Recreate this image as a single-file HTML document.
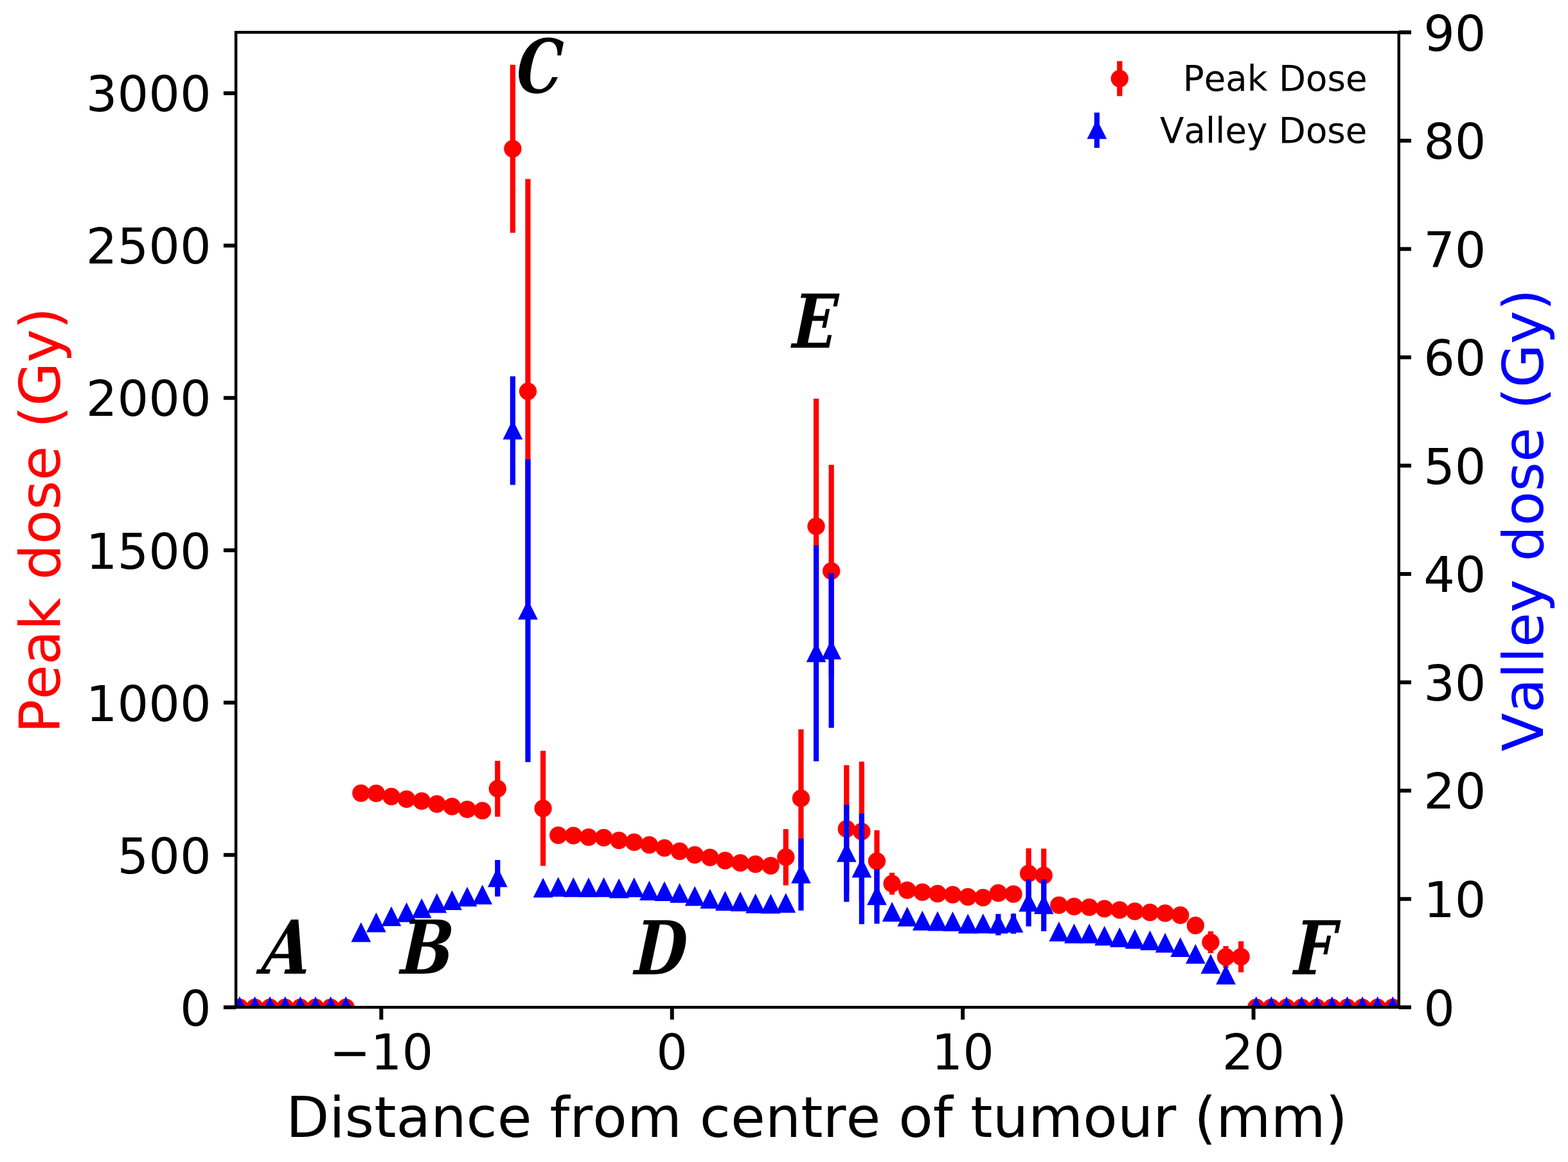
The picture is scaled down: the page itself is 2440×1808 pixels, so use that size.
<!DOCTYPE html>
<html lang="en"><head><meta charset="utf-8"><title>Peak and valley dose profile</title>
<style>html,body{margin:0;padding:0;background:#fff}body{width:2440px;height:1808px;overflow:hidden}svg{display:block}text{font-family:"DejaVu Sans","Liberation Sans",sans-serif;font-kerning:none;font-variant-ligatures:none}.tk{font-size:76.58px;fill:#000}.lb{font-size:87.52px}.lg{font-size:54.7px;fill:#000}.an{font-family:"DejaVu Serif Condensed","DejaVu Serif","Liberation Serif",serif;font-stretch:condensed;font-weight:bold;font-style:italic;fill:#000;font-kerning:none}</style></head><body>
<svg width="2440" height="1808" viewBox="0 0 2440 1808">
<rect width="2440" height="1808" fill="#fff"/>
<defs><clipPath id="ax"><rect x="367.1" y="50.3" width="1809.7" height="1517"/></clipPath></defs>
<g clip-path="url(#ax)">
<g stroke="#f00" stroke-width="8.21" fill="none">
<line x1="774.27" y1="1183.7" x2="774.27" y2="1270.7"/>
<line x1="797.88" y1="100.8" x2="797.88" y2="362.2"/>
<line x1="821.49" y1="278.5" x2="821.49" y2="939.1"/>
<line x1="845.1" y1="1168.3" x2="845.1" y2="1347.3"/>
<line x1="1222.86" y1="1289.9" x2="1222.86" y2="1377.5"/>
<line x1="1246.47" y1="1134.8" x2="1246.47" y2="1349.6"/>
<line x1="1270.08" y1="620.2" x2="1270.08" y2="1017.6"/>
<line x1="1293.69" y1="723.3" x2="1293.69" y2="1053.5"/>
<line x1="1317.3" y1="1190.5" x2="1317.3" y2="1388.9"/>
<line x1="1340.91" y1="1185.1" x2="1340.91" y2="1402.5"/>
<line x1="1364.52" y1="1291.8" x2="1364.52" y2="1387.8"/>
<line x1="1388.13" y1="1357.9" x2="1388.13" y2="1391.9"/>
<line x1="1600.62" y1="1319.9" x2="1600.62" y2="1398.3"/>
<line x1="1624.23" y1="1320.4" x2="1624.23" y2="1403.8"/>
<line x1="1883.94" y1="1449.1" x2="1883.94" y2="1483.1"/>
<line x1="1907.55" y1="1472" x2="1907.55" y2="1506"/>
<line x1="1931.16" y1="1464.5" x2="1931.16" y2="1512.9"/>
</g>
<g fill="#f00">
<circle cx="372.9" cy="1567.3" r="13.67"/>
<circle cx="396.51" cy="1567.3" r="13.67"/>
<circle cx="420.12" cy="1567.3" r="13.67"/>
<circle cx="443.73" cy="1567.3" r="13.67"/>
<circle cx="467.34" cy="1567.3" r="13.67"/>
<circle cx="490.95" cy="1567.3" r="13.67"/>
<circle cx="514.56" cy="1567.3" r="13.67"/>
<circle cx="538.17" cy="1567.3" r="13.67"/>
<circle cx="561.78" cy="1234.1" r="13.67"/>
<circle cx="585.39" cy="1234.4" r="13.67"/>
<circle cx="609" cy="1239.4" r="13.67"/>
<circle cx="632.61" cy="1243.4" r="13.67"/>
<circle cx="656.22" cy="1246.4" r="13.67"/>
<circle cx="679.83" cy="1251" r="13.67"/>
<circle cx="703.44" cy="1254.9" r="13.67"/>
<circle cx="727.05" cy="1259.4" r="13.67"/>
<circle cx="750.66" cy="1261.4" r="13.67"/>
<circle cx="774.27" cy="1227.2" r="13.67"/>
<circle cx="797.88" cy="231.5" r="13.67"/>
<circle cx="821.49" cy="608.8" r="13.67"/>
<circle cx="845.1" cy="1257.8" r="13.67"/>
<circle cx="868.71" cy="1299.6" r="13.67"/>
<circle cx="892.32" cy="1300.1" r="13.67"/>
<circle cx="915.93" cy="1302.6" r="13.67"/>
<circle cx="939.54" cy="1303.3" r="13.67"/>
<circle cx="963.15" cy="1307.6" r="13.67"/>
<circle cx="986.76" cy="1310.4" r="13.67"/>
<circle cx="1010.37" cy="1314.7" r="13.67"/>
<circle cx="1033.98" cy="1319.4" r="13.67"/>
<circle cx="1057.59" cy="1324.5" r="13.67"/>
<circle cx="1081.2" cy="1330.1" r="13.67"/>
<circle cx="1104.81" cy="1334.2" r="13.67"/>
<circle cx="1128.42" cy="1339" r="13.67"/>
<circle cx="1152.03" cy="1342.7" r="13.67"/>
<circle cx="1175.64" cy="1344.6" r="13.67"/>
<circle cx="1199.25" cy="1347" r="13.67"/>
<circle cx="1222.86" cy="1333.7" r="13.67"/>
<circle cx="1246.47" cy="1242.2" r="13.67"/>
<circle cx="1270.08" cy="818.9" r="13.67"/>
<circle cx="1293.69" cy="888.4" r="13.67"/>
<circle cx="1317.3" cy="1289.7" r="13.67"/>
<circle cx="1340.91" cy="1293.8" r="13.67"/>
<circle cx="1364.52" cy="1339.8" r="13.67"/>
<circle cx="1388.13" cy="1374.9" r="13.67"/>
<circle cx="1411.74" cy="1385.1" r="13.67"/>
<circle cx="1435.35" cy="1388.1" r="13.67"/>
<circle cx="1458.96" cy="1390.5" r="13.67"/>
<circle cx="1482.57" cy="1392.2" r="13.67"/>
<circle cx="1506.18" cy="1395.5" r="13.67"/>
<circle cx="1529.79" cy="1396.7" r="13.67"/>
<circle cx="1553.4" cy="1389.5" r="13.67"/>
<circle cx="1577.01" cy="1391.1" r="13.67"/>
<circle cx="1600.62" cy="1359.1" r="13.67"/>
<circle cx="1624.23" cy="1362.1" r="13.67"/>
<circle cx="1647.84" cy="1408.3" r="13.67"/>
<circle cx="1671.45" cy="1410.5" r="13.67"/>
<circle cx="1695.06" cy="1411.7" r="13.67"/>
<circle cx="1718.67" cy="1413.9" r="13.67"/>
<circle cx="1742.28" cy="1415.8" r="13.67"/>
<circle cx="1765.89" cy="1418" r="13.67"/>
<circle cx="1789.5" cy="1419.7" r="13.67"/>
<circle cx="1813.11" cy="1420.9" r="13.67"/>
<circle cx="1836.72" cy="1424" r="13.67"/>
<circle cx="1860.33" cy="1440" r="13.67"/>
<circle cx="1883.94" cy="1466.1" r="13.67"/>
<circle cx="1907.55" cy="1489" r="13.67"/>
<circle cx="1931.16" cy="1488.7" r="13.67"/>
<circle cx="1954.77" cy="1567.3" r="13.67"/>
<circle cx="1978.38" cy="1567.3" r="13.67"/>
<circle cx="2001.99" cy="1567.3" r="13.67"/>
<circle cx="2025.6" cy="1567.3" r="13.67"/>
<circle cx="2049.21" cy="1567.3" r="13.67"/>
<circle cx="2072.82" cy="1567.3" r="13.67"/>
<circle cx="2096.43" cy="1567.3" r="13.67"/>
<circle cx="2120.04" cy="1567.3" r="13.67"/>
<circle cx="2143.65" cy="1567.3" r="13.67"/>
<circle cx="2167.26" cy="1567.3" r="13.67"/>
</g>
<g stroke="#00f" stroke-width="8.21" fill="none">
<line x1="774.27" y1="1338.1" x2="774.27" y2="1394.9"/>
<line x1="797.88" y1="585.4" x2="797.88" y2="754.6"/>
<line x1="821.49" y1="714.8" x2="821.49" y2="1185.8"/>
<line x1="1246.47" y1="1304.8" x2="1246.47" y2="1416.8"/>
<line x1="1270.08" y1="848.5" x2="1270.08" y2="1184.5"/>
<line x1="1293.69" y1="892" x2="1293.69" y2="1132.4"/>
<line x1="1317.3" y1="1252" x2="1317.3" y2="1403.2"/>
<line x1="1340.91" y1="1265.9" x2="1340.91" y2="1437.9"/>
<line x1="1364.52" y1="1351.9" x2="1364.52" y2="1437.3"/>
<line x1="1553.4" y1="1422.1" x2="1553.4" y2="1455.3"/>
<line x1="1577.01" y1="1421.6" x2="1577.01" y2="1452.8"/>
<line x1="1600.62" y1="1368.4" x2="1600.62" y2="1441.4"/>
<line x1="1624.23" y1="1368" x2="1624.23" y2="1449"/>
</g>
<g fill="#00f" stroke="#00f" stroke-width="5.47" stroke-linejoin="miter" stroke-miterlimit="10">
<polygon points="372.9,1556.36 361.96,1578.24 383.84,1578.24"/>
<polygon points="396.51,1556.36 385.57,1578.24 407.45,1578.24"/>
<polygon points="420.12,1556.36 409.18,1578.24 431.06,1578.24"/>
<polygon points="443.73,1556.36 432.79,1578.24 454.67,1578.24"/>
<polygon points="467.34,1556.36 456.4,1578.24 478.28,1578.24"/>
<polygon points="490.95,1556.36 480.01,1578.24 501.89,1578.24"/>
<polygon points="514.56,1556.36 503.62,1578.24 525.5,1578.24"/>
<polygon points="538.17,1556.36 527.23,1578.24 549.11,1578.24"/>
<polygon points="561.78,1441.11 550.84,1462.99 572.72,1462.99"/>
<polygon points="585.39,1425.86 574.45,1447.74 596.33,1447.74"/>
<polygon points="609,1416.26 598.06,1438.14 619.94,1438.14"/>
<polygon points="632.61,1410.16 621.67,1432.04 643.55,1432.04"/>
<polygon points="656.22,1403.81 645.28,1425.69 667.16,1425.69"/>
<polygon points="679.83,1395.86 668.89,1417.74 690.77,1417.74"/>
<polygon points="703.44,1391.36 692.5,1413.24 714.38,1413.24"/>
<polygon points="727.05,1385.81 716.11,1407.69 737.99,1407.69"/>
<polygon points="750.66,1382.66 739.72,1404.54 761.6,1404.54"/>
<polygon points="774.27,1355.56 763.33,1377.44 785.21,1377.44"/>
<polygon points="797.88,659.06 786.94,680.94 808.82,680.94"/>
<polygon points="821.49,939.36 810.55,961.24 832.43,961.24"/>
<polygon points="845.1,1371.96 834.16,1393.84 856.04,1393.84"/>
<polygon points="868.71,1370.56 857.77,1392.44 879.65,1392.44"/>
<polygon points="892.32,1371.16 881.38,1393.04 903.26,1393.04"/>
<polygon points="915.93,1371.46 904.99,1393.34 926.87,1393.34"/>
<polygon points="939.54,1371.16 928.6,1393.04 950.48,1393.04"/>
<polygon points="963.15,1372.86 952.21,1394.74 974.09,1394.74"/>
<polygon points="986.76,1371.36 975.82,1393.24 997.7,1393.24"/>
<polygon points="1010.37,1376.36 999.43,1398.24 1021.31,1398.24"/>
<polygon points="1033.98,1377.26 1023.04,1399.14 1044.92,1399.14"/>
<polygon points="1057.59,1380.16 1046.65,1402.04 1068.53,1402.04"/>
<polygon points="1081.2,1384.76 1070.26,1406.64 1092.14,1406.64"/>
<polygon points="1104.81,1389.16 1093.87,1411.04 1115.75,1411.04"/>
<polygon points="1128.42,1392.26 1117.48,1414.14 1139.36,1414.14"/>
<polygon points="1152.03,1393.26 1141.09,1415.14 1162.97,1415.14"/>
<polygon points="1175.64,1396.36 1164.7,1418.24 1186.58,1418.24"/>
<polygon points="1199.25,1396.86 1188.31,1418.74 1210.19,1418.74"/>
<polygon points="1222.86,1395.56 1211.92,1417.44 1233.8,1417.44"/>
<polygon points="1246.47,1349.86 1235.53,1371.74 1257.41,1371.74"/>
<polygon points="1270.08,1005.56 1259.14,1027.44 1281.02,1027.44"/>
<polygon points="1293.69,1001.26 1282.75,1023.14 1304.63,1023.14"/>
<polygon points="1317.3,1316.66 1306.36,1338.54 1328.24,1338.54"/>
<polygon points="1340.91,1340.96 1329.97,1362.84 1351.85,1362.84"/>
<polygon points="1364.52,1383.66 1353.58,1405.54 1375.46,1405.54"/>
<polygon points="1388.13,1409.46 1377.19,1431.34 1399.07,1431.34"/>
<polygon points="1411.74,1416.76 1400.8,1438.64 1422.68,1438.64"/>
<polygon points="1435.35,1423.06 1424.41,1444.94 1446.29,1444.94"/>
<polygon points="1458.96,1423.96 1448.02,1445.84 1469.9,1445.84"/>
<polygon points="1482.57,1424.26 1471.63,1446.14 1493.51,1446.14"/>
<polygon points="1506.18,1427.96 1495.24,1449.84 1517.12,1449.84"/>
<polygon points="1529.79,1427.66 1518.85,1449.54 1540.73,1449.54"/>
<polygon points="1553.4,1427.76 1542.46,1449.64 1564.34,1449.64"/>
<polygon points="1577.01,1426.26 1566.07,1448.14 1587.95,1448.14"/>
<polygon points="1600.62,1393.96 1589.68,1415.84 1611.56,1415.84"/>
<polygon points="1624.23,1397.56 1613.29,1419.44 1635.17,1419.44"/>
<polygon points="1647.84,1440.06 1636.9,1461.94 1658.78,1461.94"/>
<polygon points="1671.45,1443.16 1660.51,1465.04 1682.39,1465.04"/>
<polygon points="1695.06,1443.16 1684.12,1465.04 1706,1465.04"/>
<polygon points="1718.67,1446.66 1707.73,1468.54 1729.61,1468.54"/>
<polygon points="1742.28,1449.06 1731.34,1470.94 1753.22,1470.94"/>
<polygon points="1765.89,1451.66 1754.95,1473.54 1776.83,1473.54"/>
<polygon points="1789.5,1453.96 1778.56,1475.84 1800.44,1475.84"/>
<polygon points="1813.11,1457.66 1802.17,1479.54 1824.05,1479.54"/>
<polygon points="1836.72,1464.46 1825.78,1486.34 1847.66,1486.34"/>
<polygon points="1860.33,1474.86 1849.39,1496.74 1871.27,1496.74"/>
<polygon points="1883.94,1490.36 1873,1512.24 1894.88,1512.24"/>
<polygon points="1907.55,1507.06 1896.61,1528.94 1918.49,1528.94"/>
<polygon points="1954.77,1556.36 1943.83,1578.24 1965.71,1578.24"/>
<polygon points="1978.38,1556.36 1967.44,1578.24 1989.32,1578.24"/>
<polygon points="2001.99,1556.36 1991.05,1578.24 2012.93,1578.24"/>
<polygon points="2025.6,1556.36 2014.66,1578.24 2036.54,1578.24"/>
<polygon points="2049.21,1556.36 2038.27,1578.24 2060.15,1578.24"/>
<polygon points="2072.82,1556.36 2061.88,1578.24 2083.76,1578.24"/>
<polygon points="2096.43,1556.36 2085.49,1578.24 2107.37,1578.24"/>
<polygon points="2120.04,1556.36 2109.1,1578.24 2130.98,1578.24"/>
<polygon points="2143.65,1556.36 2132.71,1578.24 2154.59,1578.24"/>
<polygon points="2167.26,1556.36 2156.32,1578.24 2178.2,1578.24"/>
</g>
</g>
<g stroke="#000" stroke-width="6" fill="none">
<line x1="593.31" y1="1567.3" x2="593.31" y2="1586.5"/>
<line x1="1045.74" y1="1567.3" x2="1045.74" y2="1586.5"/>
<line x1="1498.16" y1="1567.3" x2="1498.16" y2="1586.5"/>
<line x1="1950.59" y1="1567.3" x2="1950.59" y2="1586.5"/>
<line x1="367.1" y1="1567.3" x2="347.9" y2="1567.3"/>
<line x1="367.1" y1="1330.27" x2="347.9" y2="1330.27"/>
<line x1="367.1" y1="1093.24" x2="347.9" y2="1093.24"/>
<line x1="367.1" y1="856.21" x2="347.9" y2="856.21"/>
<line x1="367.1" y1="619.17" x2="347.9" y2="619.17"/>
<line x1="367.1" y1="382.14" x2="347.9" y2="382.14"/>
<line x1="367.1" y1="145.11" x2="347.9" y2="145.11"/>
<line x1="2176.8" y1="1567.3" x2="2196" y2="1567.3"/>
<line x1="2176.8" y1="1398.74" x2="2196" y2="1398.74"/>
<line x1="2176.8" y1="1230.19" x2="2196" y2="1230.19"/>
<line x1="2176.8" y1="1061.63" x2="2196" y2="1061.63"/>
<line x1="2176.8" y1="893.08" x2="2196" y2="893.08"/>
<line x1="2176.8" y1="724.52" x2="2196" y2="724.52"/>
<line x1="2176.8" y1="555.97" x2="2196" y2="555.97"/>
<line x1="2176.8" y1="387.41" x2="2196" y2="387.41"/>
<line x1="2176.8" y1="218.86" x2="2196" y2="218.86"/>
<line x1="2176.8" y1="50.3" x2="2196" y2="50.3"/>
</g>
<rect x="367.1" y="50.3" width="1809.7" height="1517" stroke="#000" stroke-width="4.5" fill="none"/>
<g class="tk">
<text x="593.31" y="1663.8" text-anchor="middle">−10</text>
<text x="1045.74" y="1663.8" text-anchor="middle">0</text>
<text x="1498.16" y="1663.8" text-anchor="middle">10</text>
<text x="1950.59" y="1663.8" text-anchor="middle">20</text>
<text x="328.76" y="1595.6" text-anchor="end">0</text>
<text x="328.76" y="1358.57" text-anchor="end">500</text>
<text x="328.76" y="1121.54" text-anchor="end">1000</text>
<text x="328.76" y="884.51" text-anchor="end">1500</text>
<text x="328.76" y="647.47" text-anchor="end">2000</text>
<text x="328.76" y="410.44" text-anchor="end">2500</text>
<text x="328.76" y="173.41" text-anchor="end">3000</text>
<text x="2215.14" y="1595.6" text-anchor="start">0</text>
<text x="2215.14" y="1427.04" text-anchor="start">10</text>
<text x="2215.14" y="1258.49" text-anchor="start">20</text>
<text x="2215.14" y="1089.93" text-anchor="start">30</text>
<text x="2215.14" y="921.38" text-anchor="start">40</text>
<text x="2215.14" y="752.82" text-anchor="start">50</text>
<text x="2215.14" y="584.27" text-anchor="start">60</text>
<text x="2215.14" y="415.71" text-anchor="start">70</text>
<text x="2215.14" y="247.16" text-anchor="start">80</text>
<text x="2215.14" y="78.6" text-anchor="start">90</text>
</g>
<text class="lb" x="444.9" y="1768.8" fill="#000">Distance from centre of tumour (mm)</text>
<text class="lb" transform="translate(92.7 1141.1) rotate(-90)" fill="#f00">Peak dose (Gy)</text>
<text class="lb" transform="translate(2400.5 1169.2) rotate(-90)" fill="#00f">Valley dose (Gy)</text>
<line x1="1742.3" y1="95.1" x2="1742.3" y2="149.5" stroke="#f00" stroke-width="8.21"/>
<circle cx="1742.3" cy="122.3" r="13.67" fill="#f00"/>
<line x1="1706.9" y1="175.2" x2="1706.9" y2="230" stroke="#00f" stroke-width="8.21"/>
<g fill="#00f" stroke="#00f" stroke-width="5.47" stroke-miterlimit="10"><polygon points="1706.9,191.66 1695.96,213.54 1717.84,213.54"/></g>
<text class="lg" x="1840.7" y="141">Peak Dose</text>
<text class="lg" x="1805.1" y="222.1">Valley Dose</text>
<text class="an" transform="translate(405.67 1515.2) skewX(-6) scale(0.93 1)" font-size="115.5">A</text>
<text class="an" transform="translate(622.52 1515.2) skewX(-3) scale(0.93 1)" font-size="115.5">B</text>
<text class="an" transform="translate(802.7 144.3) skewX(-3) scale(0.86 1)" font-size="115.5">C</text>
<text class="an" transform="translate(986.55 1515.5) skewX(-3) scale(0.9 1)" font-size="115.5">D</text>
<text class="an" transform="translate(1232.15 540.8) skewX(-3) scale(0.87 1)" font-size="115.5">E</text>
<text class="an" transform="translate(2012.63 1515.5) skewX(-3) scale(0.87 1)" font-size="115.5">F</text>
</svg></body></html>
